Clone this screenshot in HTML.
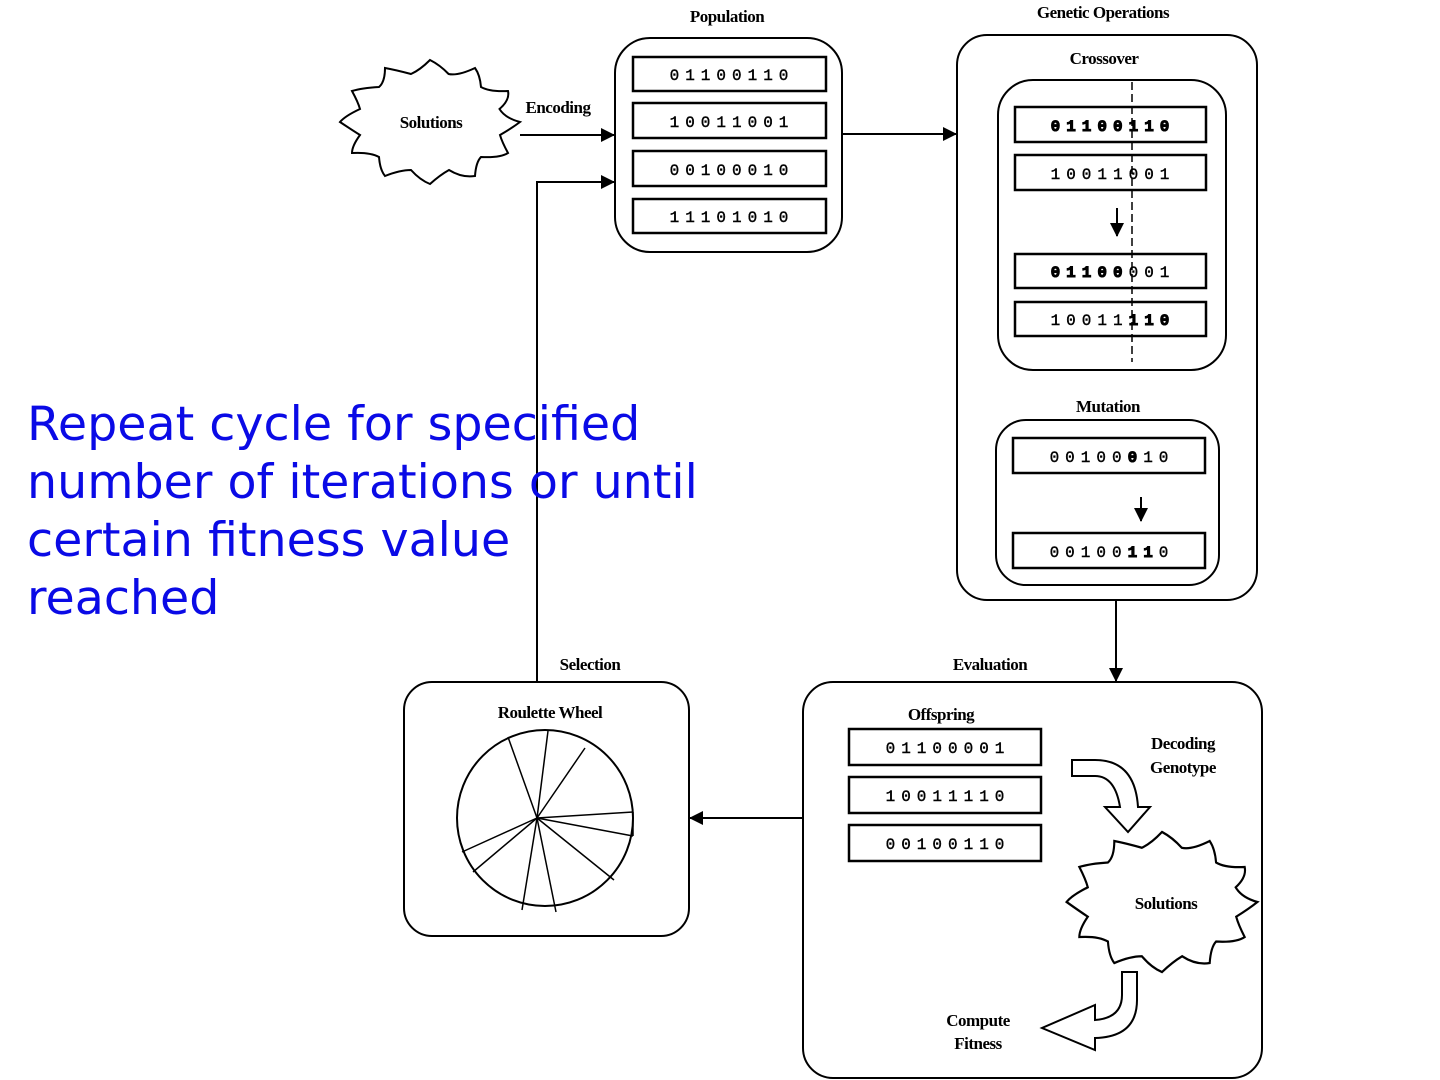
<!DOCTYPE html>
<html><head><meta charset="utf-8"><style>
html,body{margin:0;padding:0;background:#fff;width:1440px;height:1080px;overflow:hidden}
svg{position:absolute;left:0;top:0}
.l{font-family:"Liberation Serif",serif;font-size:17px;font-weight:bold;letter-spacing:-0.5px}
.d{font-family:"Liberation Mono",monospace;font-size:16px;letter-spacing:6px;stroke:#000;stroke-width:0.4}
.b{font-weight:bold;stroke-width:1}
#t{position:absolute;left:27px;top:396px;font-family:"DejaVu Sans",sans-serif;font-size:47.5px;line-height:58px;color:#0a0ae6;white-space:nowrap}
</style></head><body>
<svg width="1440" height="1080" viewBox="0 0 1440 1080">
<defs><marker id="a2" markerWidth="14" markerHeight="14" refX="13" refY="7" orient="auto" markerUnits="userSpaceOnUse"><path d="M0,0 L14,7 L0,14 Z" fill="#000"/></marker></defs>
<g fill="none" stroke="#000" stroke-width="2">
<rect x="615" y="38" width="227" height="214" rx="35"/>
<rect x="957" y="35" width="300" height="565" rx="30"/>
<rect x="998" y="80" width="228" height="290" rx="35"/>
<rect x="996" y="420" width="223" height="165" rx="30"/>
<rect x="803" y="682" width="459" height="396" rx="30"/>
<rect x="404" y="682" width="285" height="254" rx="28"/>
<g stroke-width="2.5">
<rect x="633" y="57" width="193" height="34"/><rect x="633" y="103" width="193" height="35"/><rect x="633" y="151" width="193" height="35"/><rect x="633" y="199" width="193" height="34"/>
<rect x="1015" y="107" width="191" height="35"/><rect x="1015" y="155" width="191" height="35"/><rect x="1015" y="254" width="191" height="34"/><rect x="1015" y="302" width="191" height="34"/>
<rect x="1013" y="438" width="192" height="35"/><rect x="1013" y="533" width="192" height="35"/>
<rect x="849" y="729" width="192" height="36"/><rect x="849" y="777" width="192" height="36"/><rect x="849" y="825" width="192" height="36"/>
</g>
<line x1="1132" y1="82" x2="1132" y2="362" stroke-dasharray="8,4" stroke-width="1.5"/>
<line x1="1117" y1="208" x2="1117" y2="236" marker-end="url(#a2)"/>
<line x1="1141" y1="497" x2="1141" y2="521" marker-end="url(#a2)"/>
<line x1="520" y1="135" x2="614" y2="135" marker-end="url(#a2)"/>
<line x1="842" y1="134" x2="956" y2="134" marker-end="url(#a2)"/>
<line x1="1116" y1="600" x2="1116" y2="681" marker-end="url(#a2)"/>
<line x1="803" y1="818" x2="690" y2="818" marker-end="url(#a2)"/>
<polyline points="537,682 537,182 614,182" marker-end="url(#a2)"/>
<path id="c" d="M520,122 Q505,118 499.5,109 Q510,100 508,91 Q490,92 481,87 Q480,75 475,68 Q458,76 448.6,74 Q440,65 430,60 Q420,70 411,74 Q396,70 385,68 Q385,82 379,87 Q362,88 352,91 Q358,102 360,109 Q345,116 340,122 Q352,130 360,135 Q352,146 352,153 Q370,152 379,157 Q380,170 385,176 Q400,170 411,170 Q420,180 430,184 Q440,175 449,170 Q462,178 475,176 Q476,162 481,157 Q500,158 508,153 Q502,142 500,135 Q512,128 520,122 Z"/>
<use href="#c" transform="translate(1162,902) scale(1.06,1.13) translate(-430,-122)" vector-effect="non-scaling-stroke"/>
<ellipse cx="545" cy="818" rx="88" ry="88"/>
<g stroke-width="1.5">
<line x1="537" y1="818" x2="508" y2="737"/><line x1="537" y1="818" x2="548" y2="731"/><line x1="537" y1="818" x2="585" y2="748"/><line x1="537" y1="818" x2="633" y2="812"/><line x1="537" y1="818" x2="633" y2="836"/><line x1="537" y1="818" x2="614" y2="880"/><line x1="537" y1="818" x2="556" y2="912"/><line x1="537" y1="818" x2="522" y2="910"/><line x1="537" y1="818" x2="473" y2="872"/><line x1="537" y1="818" x2="462" y2="852"/>
<line x1="633" y1="812" x2="633" y2="836"/>
</g>
<path d="M1072,760 L1095,760 Q1135,760 1138,807 L1150,807 L1128,832 L1105,807 L1120,807 Q1115,776 1095,776 L1072,776 Z"/>
<path d="M1122,972 L1137,972 L1137,1000 Q1137,1037 1095,1038 L1095,1050 L1042,1028 L1095,1005 L1095,1020 Q1122,1018 1122,995 Z"/>
</g>
<g class="l" text-anchor="middle">
<text x="727" y="22">Population</text>
<text x="1103" y="18">Genetic Operations</text>
<text x="1104" y="64">Crossover</text>
<text x="1108" y="412">Mutation</text>
<text x="431" y="128">Solutions</text>
<text x="558" y="113">Encoding</text>
<text x="590" y="670">Selection</text>
<text x="990" y="670">Evaluation</text>
<text x="550" y="718">Roulette Wheel</text>
<text x="941" y="720">Offspring</text>
<text x="1183" y="749">Decoding</text>
<text x="1183" y="773">Genotype</text>
<text x="1166" y="909">Solutions</text>
<text x="978" y="1026">Compute</text>
<text x="978" y="1049">Fitness</text>
</g>
<g class="d" text-anchor="middle">
<text x="732" y="80">01100110</text>
<text x="732" y="127">10011001</text>
<text x="732" y="175">00100010</text>
<text x="732" y="222">11101010</text>
<text x="1113" y="131" class="b">01100110</text>
<text x="1113" y="179">10011001</text>
<text x="1113" y="277"><tspan class="b">01100</tspan>001</text>
<text x="1113" y="325">10011<tspan class="b">110</tspan></text>
<text x="1112" y="462">00100<tspan class="b">0</tspan>10</text>
<text x="1112" y="557">00100<tspan class="b">11</tspan>0</text>
<text x="948" y="753">01100001</text>
<text x="948" y="801">10011110</text>
<text x="948" y="849">00100110</text>
</g>
</svg>
<div id="t">Repeat cycle for specified<br>number of iterations or until<br>certain fitness value<br>reached</div>
</body></html>
